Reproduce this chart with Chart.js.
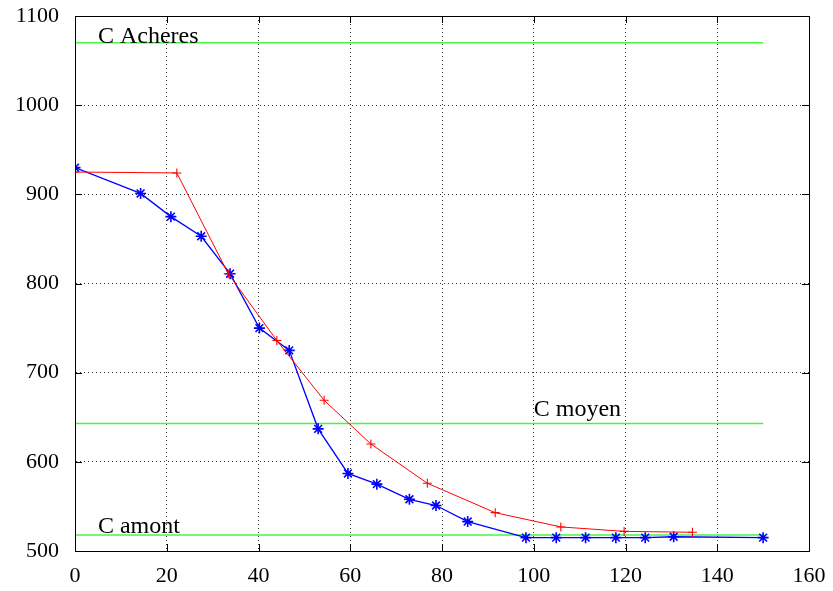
<!DOCTYPE html>
<html>
<head>
<meta charset="utf-8">
<script src="https://cdn.jsdelivr.net/npm/chart.js@4/dist/chart.umd.min.js"></script>
<style>
  html, body { margin: 0; padding: 0; background: #fff; }
  #wrap { width: 833px; height: 591px; }
</style>
</head>
<body>
<div id="wrap"><canvas id="c" width="833" height="591"></canvas></div>
<script>
// ---- data ----
const redX  = [0, 22.2, 33.4, 44.0, 54.3, 64.5, 76.8, 91.6, 105.9, 119.7, 134.6];
const redY  = [925, 924, 811, 736, 669, 620, 576, 543, 527, 522, 521];
const blueX = [0, 14.3, 20.9, 27.5, 33.8, 40.2, 46.7, 53.0, 59.5, 65.8, 72.9, 78.7, 85.6, 98.3, 104.9, 111.3, 117.9, 124.3, 130.5, 150];
const blueY = [930, 901, 875, 853, 811, 750, 725, 637, 587, 575, 558, 551, 533, 515, 515, 515, 515, 515, 516, 515];
const levelNames  = ["C Acheres", "C moyen", "C amont"];
const levelValues = [1070, 643, 518];
const levelStartX = 0;
const levelEndX   = 150;
const labelX = [5, 100, 5];
const labelY = [1070, 651, 520];
const xTicks = [0, 20, 40, 60, 80, 100, 120, 140, 160];
const yTicks = [500, 600, 700, 800, 900, 1000, 1100];

const toPts = (xs, ys) => xs.map((x, i) => ({x: x, y: ys[i]}));

const datasets = [
  { label: 'red', data: toPts(redX, redY), borderColor: 'rgb(255,0,0)', backgroundColor: 'rgb(255,0,0)',
    borderWidth: 1, pointStyle: 'cross', pointRadius: 4.5, pointBorderWidth: 1.1, pointHoverRadius: 4.5, tension: 0 },
  { label: 'blue', data: toPts(blueX, blueY), borderColor: 'rgb(0,0,255)', backgroundColor: 'rgb(0,0,255)',
    borderWidth: 1.3, pointStyle: 'star', pointRadius: 5.5, pointBorderWidth: 1.6, pointHoverRadius: 5.5, tension: 0 }
];
levelValues.forEach((v, i) => {
  datasets.push({ label: levelNames[i], data: [{x: levelStartX, y: v}, {x: levelEndX, y: v}],
    borderColor: 'rgb(70,245,70)', borderWidth: 1.6, pointRadius: 0, pointHoverRadius: 0 });
});

const FONT = "'Liberation Serif', 'Times New Roman', serif";

const framePlugin = {
  id: 'frame',
  afterDatasetsDraw(chart) {
    const {ctx, chartArea: a, scales: {x, y}} = chart;
    ctx.save();
    ctx.strokeStyle = '#000';
    ctx.lineWidth = 1;
    ctx.beginPath();
    ctx.rect(Math.round(a.left) + 0.5, Math.round(a.top) + 0.5, Math.round(a.right - a.left), Math.round(a.bottom - a.top));
    ctx.stroke();
    const L = 7;
    ctx.beginPath();
    xTicks.forEach(t => {
      const px = Math.round(x.getPixelForValue(t)) + 0.5;
      ctx.moveTo(px, a.bottom); ctx.lineTo(px, a.bottom - L);
      ctx.moveTo(px, a.top); ctx.lineTo(px, a.top + L);
    });
    yTicks.forEach(t => {
      const py = Math.round(y.getPixelForValue(t)) + 0.5;
      ctx.moveTo(a.left, py); ctx.lineTo(a.left + L, py);
      ctx.moveTo(a.right, py); ctx.lineTo(a.right - L, py);
    });
    ctx.stroke();
    // level labels
    ctx.fillStyle = '#000';
    ctx.font = "24px " + FONT;
    ctx.textAlign = 'left';
    ctx.textBaseline = 'alphabetic';
    levelNames.forEach((n, i) => {
      ctx.fillText(n, x.getPixelForValue(labelX[i]), y.getPixelForValue(labelY[i]));
    });
    ctx.restore();
  }
};

new Chart(document.getElementById('c'), {
  type: 'line',
  data: { datasets: datasets },
  options: {
    responsive: false,
    animation: false,
    devicePixelRatio: 1,
    layout: { padding: { top: 16, right: 24, left: 0, bottom: 0 } },
    plugins: { legend: { display: false }, tooltip: { enabled: false } },
    scales: {
      x: {
        type: 'linear', min: 0, max: 160,
        afterBuildTicks: s => { s.ticks = xTicks.map(v => ({value: v})); },
        afterFit: s => { s.height = 40; s.paddingLeft = 0; s.paddingRight = 0; },
        grid: { color: 'rgba(0,0,0,0.8)', lineWidth: 1, drawTicks: false },
        border: { display: true, color: '#000', width: 1, dash: [1, 3] },
        ticks: { color: '#000', font: { family: FONT, size: 22 }, padding: 12, maxRotation: 0,
                 callback: v => String(v) }
      },
      y: {
        type: 'linear', min: 500, max: 1100,
        afterBuildTicks: s => { s.ticks = yTicks.map(v => ({value: v})); },
        afterFit: s => { s.width = 75; s.paddingTop = 0; s.paddingBottom = 0; },
        grid: { color: 'rgba(0,0,0,0.8)', lineWidth: 1, drawTicks: false },
        border: { display: true, color: '#000', width: 1, dash: [1, 3] },
        ticks: { color: '#000', font: { family: FONT, size: 22 }, padding: 16,
                 callback: v => String(v) }
      }
    }
  },
  plugins: [framePlugin]
});
</script>
</body>
</html>
